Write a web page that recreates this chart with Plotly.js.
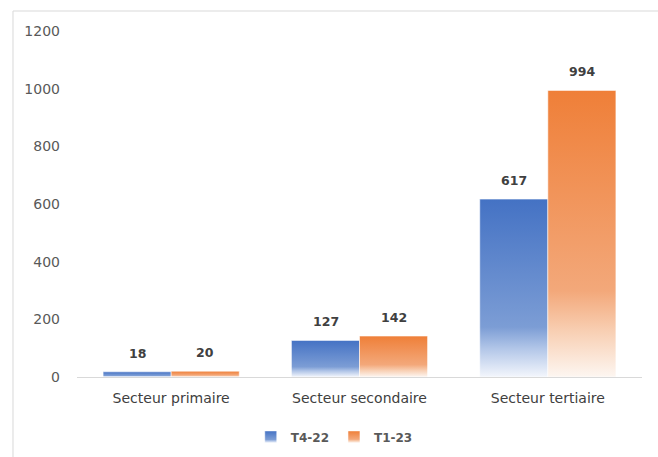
<!DOCTYPE html>
<html>
<head>
<meta charset="utf-8">
<script src="https://cdn.plot.ly/plotly-3.0.1.min.js"></script>
<style>html,body{margin:0;padding:0;background:#fff;}#chart{width:658px;height:457px;}</style>
</head>
<body>
<div id="chart"></div>
<script>
const categories = ["Secteur primaire", "Secteur secondaire", "Secteur tertiaire"];
const seriesNames = ["T4-22", "T1-23"];
const valuesT422 = [18, 127, 617];
const valuesT123 = [20, 142, 994];
const yTicks = [0, 200, 400, 600, 800, 1000, 1200];

const seriesValues = [valuesT422, valuesT123];
const baseColors = ["#4472C4", "#ED7D31"];
const offsets = [-34, 34];

const traces = seriesValues.map((vals, i) => ({
  type: "bar",
  name: seriesNames[i],
  x: categories,
  y: vals,
  marker: { color: baseColors[i], line: { color: "rgba(255,255,255,0.55)", width: 1 } },
  hoverinfo: "none"
}));

const annotations = [];
seriesValues.forEach((vals, i) => {
  vals.forEach((v, j) => {
    annotations.push({
      x: categories[j], y: v, xref: "x", yref: "y",
      text: String(v), showarrow: false,
      xshift: offsets[i], yshift: 9, yanchor: "bottom",
      font: { family: "DejaVu Sans", size: 12.5, color: "#404040", weight: "bold" }
    });
  });
});

const layout = {
  width: 658, height: 457,
  margin: { l: 77, r: 16, t: 31, b: 80, autoexpand: false },
  paper_bgcolor: "#ffffff", plot_bgcolor: "#ffffff",
  barmode: "group", bargap: 0.277, bargroupgap: 0,
  showlegend: true,
  legend: {
    orientation: "h", xref: "container", yref: "container",
    x: 0.508, xanchor: "center", y: 0.044, yanchor: "middle",
    font: { family: "DejaVu Sans", size: 12, color: "#595959", weight: "bold" },
    traceorder: "normal"
  },
  xaxis: {
    type: "category",
    showgrid: false, zeroline: false,
    showline: true, linecolor: "#d9d9d9", linewidth: 1,
    ticks: "", ticklabelstandoff: 8,
    tickfont: { family: "DejaVu Sans", size: 14, color: "#404040" }
  },
  yaxis: {
    range: [0, 1200], tickvals: yTicks, ticktext: yTicks.map(String),
    showgrid: false, zeroline: false, showline: false,
    ticks: "", ticklabelstandoff: 16,
    tickfont: { family: "DejaVu Sans", size: 14, color: "#595959" }
  },
  annotations: annotations,
  shapes: [
    { type: "line", xref: "paper", yref: "paper", x0: -0.1133, x1: -0.1133, y0: -0.4, y1: 1.0578,
      line: { color: "#d9d9d9", width: 1 } },
    { type: "line", xref: "paper", yref: "paper", x0: -0.1133, x1: 1.2, y0: 1.0578, y1: 1.0578,
      line: { color: "#d9d9d9", width: 1 } }
  ]
};

Plotly.newPlot("chart", traces, layout, { displayModeBar: false, staticPlot: true }).then(gd => {
  const svg = gd.querySelector("svg.main-svg");
  const ns = "http://www.w3.org/2000/svg";
  let defs = svg.querySelector("defs");
  if (!defs) { defs = document.createElementNS(ns, "defs"); svg.insertBefore(defs, svg.firstChild); }
  const grads = [
    [[0, "#4472C4"], [0.72, "#7C9DD5"], [0.84, "#B2C6E8"], [1, "#F3F6FC"]],
    [[0, "#EF7F38"], [0.7, "#F3A87A"], [0.84, "#F8CFB3"], [1, "#FDF6F1"]]
  ];
  grads.forEach((stops, i) => {
    const lg = document.createElementNS(ns, "linearGradient");
    lg.setAttribute("id", "barGrad" + i);
    lg.setAttribute("x1", "0"); lg.setAttribute("y1", "0");
    lg.setAttribute("x2", "0"); lg.setAttribute("y2", "1");
    stops.forEach(s => {
      const st = document.createElementNS(ns, "stop");
      st.setAttribute("offset", s[0]);
      st.setAttribute("stop-color", s[1]);
      lg.appendChild(st);
    });
    defs.appendChild(lg);
  });
  gd.querySelectorAll(".barlayer .trace").forEach((t, i) => {
    t.querySelectorAll(".point path").forEach(p => { p.style.fill = "url(#barGrad" + i + ")"; });
  });
  gd.querySelectorAll(".legend .traces").forEach((t, i) => {
    t.querySelectorAll(".legendpoints path").forEach(p => { p.style.fill = "url(#barGrad" + i + ")"; });
  });
});
</script>
</body>
</html>
